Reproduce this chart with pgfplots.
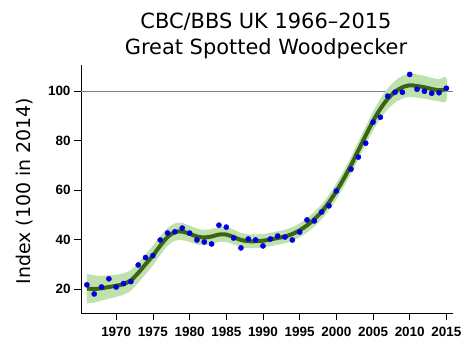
\documentclass[border=0pt]{standalone}
\usepackage{fontspec}
\setmainfont{DejaVu Sans}
\newfontfamily\arial{Liberation Sans}
\usepackage{pgfplots}
\pgfplotsset{compat=1.18}
\usepackage{pgfplotstable}
\definecolor{bandc}{RGB}{192,224,172}
\definecolor{trendc}{RGB}{58,100,20}
\definecolor{ptsc}{RGB}{0,0,225}

\pgfplotstableread{
year trend
1966 20.2
1967 20.0
1968 20.3
1969 20.8
1970 21.3
1971 22.0
1972 23.5
1973 26.5
1974 30.0
1975 33.5
1976 37.5
1977 41.0
1978 43.0
1979 43.2
1980 42.3
1981 41.2
1982 40.8
1983 41.2
1984 42.0
1985 42.0
1986 41.0
1987 39.8
1988 39.3
1989 39.3
1990 39.5
1991 40.0
1992 40.6
1993 41.2
1994 42.2
1995 43.7
1996 45.7
1997 48.2
1998 51.2
1999 55.0
2000 59.5
2001 64.5
2002 70.0
2003 76.0
2004 82.0
2005 87.8
2006 92.8
2007 96.8
2008 99.7
2009 101.5
2010 102.3
2011 102.0
2012 101.5
2013 100.8
2014 100.3
2015 100.7
}\trendtab

% band outline: upper limits forward, lower limits backward
\pgfplotstableread{
year lim
1966 26.2
1967 25.5
1968 25.3
1969 25.5
1970 25.8
1971 26.3
1972 27.7
1973 30.5
1974 34.0
1975 37.5
1976 41.3
1977 44.6
1978 46.5
1979 46.7
1980 45.6
1981 44.4
1982 43.9
1983 44.2
1984 45.0
1985 45.0
1986 44.0
1987 42.7
1988 42.1
1989 42.1
1990 42.2
1991 42.7
1992 43.3
1993 43.9
1994 45.0
1995 46.5
1996 48.6
1997 51.2
1998 54.2
1999 58.1
2000 62.7
2001 67.8
2002 73.4
2003 79.5
2004 85.6
2005 91.6
2006 96.8
2007 101.0
2008 104.1
2009 106.1
2010 107.0
2011 106.7
2012 106.1
2013 105.3
2014 104.8
2015 105.3
2015 96.1
2014 95.8
2013 96.3
2012 96.9
2011 97.3
2010 97.6
2009 96.9
2008 95.3
2007 92.6
2006 88.8
2005 84.0
2004 78.4
2003 72.5
2002 66.6
2001 61.2
2000 56.3
1999 51.9
1998 48.2
1997 45.2
1996 42.8
1995 40.9
1994 39.4
1993 38.5
1992 37.9
1991 37.3
1990 36.8
1989 36.5
1988 36.5
1987 36.9
1986 38.0
1985 39.0
1984 39.0
1983 38.2
1982 37.7
1981 38.0
1980 39.0
1979 39.7
1978 39.5
1977 37.4
1976 33.7
1975 29.5
1974 26.0
1973 22.5
1972 19.3
1971 17.7
1970 16.8
1969 16.1
1968 15.3
1967 14.5
1966 14.2
}\bandtab

\pgfplotstableread{
year idx
1966 21.7
1967 18.0
1968 20.8
1969 24.1
1970 20.8
1971 22.2
1972 23.0
1973 29.7
1974 32.7
1975 33.5
1976 39.8
1977 42.6
1978 43.1
1979 44.6
1980 42.6
1981 39.8
1982 39.0
1983 38.2
1984 45.8
1985 45.0
1986 40.6
1987 36.6
1988 40.2
1989 39.8
1990 37.4
1991 40.2
1992 41.4
1993 41.0
1994 39.8
1995 43.0
1996 47.9
1997 47.5
1998 51.1
1999 53.6
2000 59.6
2002 68.4
2003 73.3
2004 78.9
2005 87.4
2006 89.4
2007 97.9
2008 99.5
2009 99.5
2010 106.7
2011 100.7
2012 99.9
2013 99.1
2014 99.3
2015 101.1
}\pointtab

\begin{document}
\begin{tikzpicture}
\path[use as bounding box] (0bp,0bp) rectangle (470bp,353bp);
\node[font=\fontsize{21}{24}\selectfont, anchor=base, inner sep=0pt] at (266bp,324.7bp) {CBC/BBS UK 1966–2015};
\node[font=\fontsize{21}{24}\selectfont, anchor=base, inner sep=0pt] at (266bp,298.7bp) {Great Spotted Woodpecker};
\node[font=\fontsize{19}{24}\selectfont, rotate=90, anchor=base, inner sep=0pt] at (30bp,162bp) {Index (100 in 2014)};
\begin{axis}[
  at={(81bp,40bp)}, anchor=south west, scale only axis,
  width=372bp, height=248bp,
  xmin=1965.2, xmax=2015.9, ymin=10.3, ymax=110.5,
  axis lines=left, axis line style={-, black, line width=0.9pt},
  xtick={1970,1975,...,2015}, ytick={20,40,...,100},
  tick align=outside, major tick length=7bp,
  tick style={black, line width=0.8pt},
  ticklabel style={font=\arial\bfseries\fontsize{13.5}{14}\selectfont},
  xticklabel style={yshift=-4bp},
  /pgf/number format/assume math mode=true,
  /pgf/number format/1000 sep={},
]
\addplot[gray, line width=0.8pt] coordinates {(1965.2,100) (2015.9,100)};
\addplot[fill=bandc, draw=none, smooth] table[x=year,y=lim]{\bandtab} -- cycle;
\addplot[trendc, line width=4bp, smooth] table[x=year,y=trend]{\trendtab};
\addplot[only marks, mark=*, mark size=2.6bp, mark options={fill=ptsc, draw=ptsc}] table[x=year,y=idx]{\pointtab};
\end{axis}
\end{tikzpicture}
\end{document}
